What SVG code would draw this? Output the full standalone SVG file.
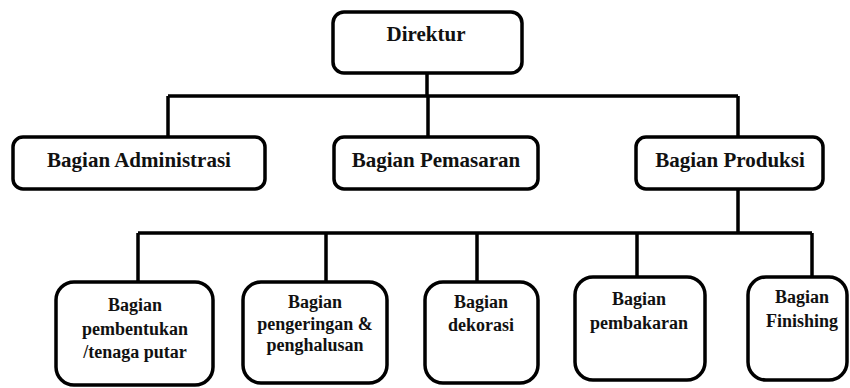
<svg xmlns="http://www.w3.org/2000/svg" width="850" height="388" viewBox="0 0 850 388">
<style>
.box{fill:#fff;stroke:#000;stroke-width:3.5}
.ln{fill:none;stroke:#000;stroke-width:3.5}
text{font-family:'Liberation Serif','DejaVu Serif',serif;font-weight:700;fill:#111;text-anchor:middle}
.t1{font-size:21px}
.t2{font-size:18px}
</style>
<rect width="850" height="388" fill="#fff"/>
<g id="connectors">
<path class="ln" d="M427 73V96M168 96H738M168 96V137M428 96V137M738 96V137M738 189V233M138 233H812M138 233V282M326 233V282M477 233V282M637 233V277M812 233V277"/>
</g>
<g id="direktur"><rect class="box" x="333" y="12" width="189" height="61" rx="11"/><text class="t1" x="426" y="41">Direktur</text></g>
<g id="administrasi"><rect class="box" x="13" y="137" width="252" height="52" rx="10"/><text class="t1" x="139" y="167">Bagian Administrasi</text></g>
<g id="pemasaran"><rect class="box" x="334" y="137" width="204" height="52" rx="10"/><text class="t1" x="436" y="167">Bagian Pemasaran</text></g>
<g id="produksi"><rect class="box" x="636" y="137" width="187" height="52" rx="10"/><text class="t1" x="730" y="167">Bagian Produksi</text></g>
<g id="pembentukan"><rect class="box" x="56" y="282" width="157" height="103" rx="18"/><text class="t2" x="135" y="311">Bagian</text><text class="t2" x="135" y="335">pembentukan</text><text class="t2" x="135" y="358">/tenaga putar</text></g>
<g id="pengeringan"><rect class="box" x="243" y="282" width="144" height="101" rx="18"/><text class="t2" x="315" y="308">Bagian</text><text class="t2" x="315" y="330">pengeringan &amp;</text><text class="t2" x="315" y="351">penghalusan</text></g>
<g id="dekorasi"><rect class="box" x="425" y="282" width="113" height="101" rx="18"/><text class="t2" x="481" y="308">Bagian</text><text class="t2" x="481" y="331">dekorasi</text></g>
<g id="pembakaran"><rect class="box" x="575" y="277" width="130" height="103" rx="18"/><text class="t2" x="639" y="305">Bagian</text><text class="t2" x="639" y="329">pembakaran</text></g>
<g id="finishing"><rect class="box" x="748" y="277" width="99" height="103" rx="18"/><text class="t2" x="802" y="303">Bagian</text><text class="t2" x="802" y="327">Finishing</text></g>
</svg>
